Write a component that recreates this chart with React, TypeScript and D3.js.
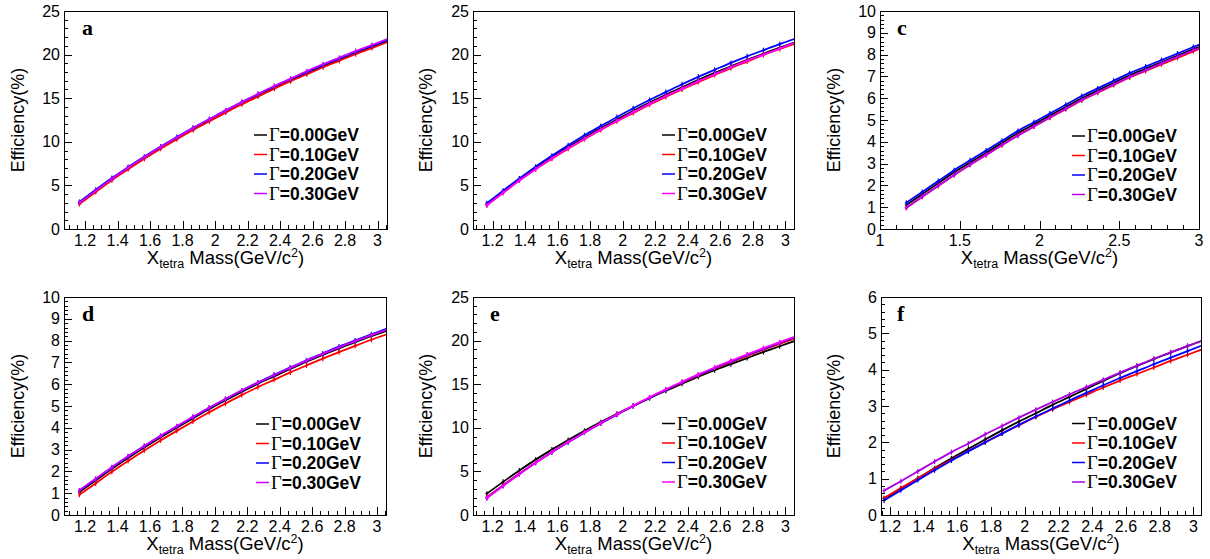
import React from "react";
import * as d3 from "d3";

// ---------------- data ----------------
const masses = [1.165, 1.265, 1.365, 1.465, 1.565, 1.665, 1.765, 1.865, 1.965, 2.065, 2.165, 2.265, 2.365, 2.465, 2.565, 2.665, 2.765, 2.865, 2.965, 3.065];
const widthLabels = ["0.00", "0.10", "0.20", "0.30"];

const effA_g000 = [3.0, 4.4, 5.75, 7.0, 8.2, 9.35, 10.45, 11.5, 12.5, 13.5, 14.45, 15.35, 16.25, 17.1, 17.9, 18.7, 19.45, 20.2, 20.9, 21.6];
const effA_g010 = [2.85, 4.25, 5.6, 6.85, 8.05, 9.2, 10.3, 11.35, 12.35, 13.35, 14.3, 15.2, 16.1, 16.95, 17.75, 18.55, 19.3, 20.05, 20.75, 21.45];
const effA_g020 = [3.1, 4.5, 5.85, 7.1, 8.3, 9.45, 10.55, 11.6, 12.6, 13.6, 14.55, 15.45, 16.35, 17.2, 18.0, 18.8, 19.55, 20.3, 21.0, 21.7];
const effA_g030 = [3.0, 4.4, 5.75, 7.05, 8.25, 9.4, 10.5, 11.6, 12.6, 13.6, 14.55, 15.5, 16.4, 17.25, 18.1, 18.9, 19.65, 20.4, 21.1, 21.8];

const effB_g000 = [2.85, 4.3, 5.7, 7.0, 8.25, 9.4, 10.5, 11.55, 12.55, 13.55, 14.5, 15.4, 16.25, 17.1, 17.9, 18.65, 19.4, 20.1, 20.8, 21.45];
const effB_g010 = [2.75, 4.15, 5.55, 6.85, 8.05, 9.2, 10.3, 11.35, 12.35, 13.3, 14.25, 15.15, 16.0, 16.85, 17.65, 18.45, 19.2, 19.95, 20.65, 21.3];
const effB_g020 = [2.95, 4.4, 5.8, 7.15, 8.4, 9.6, 10.75, 11.8, 12.85, 13.85, 14.8, 15.7, 16.6, 17.45, 18.25, 19.05, 19.8, 20.5, 21.2, 21.85];
const effB_g030 = [2.7, 4.15, 5.55, 6.85, 8.1, 9.25, 10.35, 11.4, 12.4, 13.4, 14.35, 15.25, 16.1, 16.95, 17.75, 18.55, 19.3, 20.0, 20.7, 21.4];

const effC_g000 = [1.1, 1.6, 2.1, 2.6, 3.05, 3.5, 3.95, 4.4, 4.8, 5.2, 5.6, 6.0, 6.35, 6.7, 7.05, 7.35, 7.65, 7.95, 8.25, 8.55];
const effC_g010 = [0.97, 1.48, 1.98, 2.48, 2.95, 3.4, 3.85, 4.3, 4.7, 5.1, 5.5, 5.9, 6.25, 6.6, 6.95, 7.25, 7.55, 7.85, 8.15, 8.45];
const effC_g020 = [1.2, 1.7, 2.2, 2.7, 3.15, 3.6, 4.05, 4.5, 4.9, 5.3, 5.7, 6.1, 6.45, 6.8, 7.15, 7.45, 7.75, 8.05, 8.35, 8.65];
const effC_g030 = [0.97, 1.48, 1.98, 2.48, 2.95, 3.4, 3.85, 4.28, 4.7, 5.12, 5.52, 5.92, 6.28, 6.63, 6.98, 7.28, 7.6, 7.9, 8.2, 8.5];

const effD_g000 = [1.05, 1.58, 2.12, 2.62, 3.1, 3.56, 4.0, 4.43, 4.86, 5.26, 5.65, 6.02, 6.36, 6.7, 7.03, 7.34, 7.64, 7.93, 8.2, 8.46];
const effD_g010 = [0.93, 1.45, 1.98, 2.48, 2.96, 3.42, 3.86, 4.29, 4.71, 5.11, 5.5, 5.86, 6.2, 6.54, 6.86, 7.17, 7.47, 7.76, 8.04, 8.3];
const effD_g020 = [1.12, 1.65, 2.18, 2.68, 3.16, 3.62, 4.06, 4.49, 4.92, 5.32, 5.71, 6.08, 6.43, 6.77, 7.1, 7.41, 7.72, 8.01, 8.29, 8.56];
const effD_g030 = [1.13, 1.66, 2.19, 2.69, 3.17, 3.63, 4.07, 4.5, 4.92, 5.32, 5.71, 6.07, 6.42, 6.75, 7.08, 7.39, 7.69, 7.98, 8.25, 8.52];

const effE_g000 = [2.45, 3.8, 5.1, 6.35, 7.5, 8.6, 9.65, 10.65, 11.6, 12.5, 13.4, 14.25, 15.05, 15.85, 16.6, 17.3, 18.0, 18.7, 19.35, 20.0];
const effE_g010 = [2.05, 3.42, 4.75, 6.03, 7.22, 8.37, 9.47, 10.52, 11.52, 12.5, 13.44, 14.33, 15.17, 16.0, 16.78, 17.52, 18.25, 18.95, 19.63, 20.3];
const effE_g020 = [1.95, 3.35, 4.7, 6.0, 7.2, 8.35, 9.45, 10.5, 11.5, 12.5, 13.45, 14.35, 15.22, 16.05, 16.85, 17.6, 18.35, 19.05, 19.75, 20.42];
const effE_g030 = [1.93, 3.33, 4.68, 5.98, 7.2, 8.36, 9.47, 10.53, 11.54, 12.54, 13.5, 14.41, 15.28, 16.12, 16.92, 17.68, 18.42, 19.13, 19.82, 20.5];

const effF_g000 = [0.45, 0.73, 1.01, 1.29, 1.56, 1.82, 2.08, 2.33, 2.57, 2.8, 3.03, 3.25, 3.47, 3.69, 3.9, 4.1, 4.29, 4.47, 4.65, 4.82];
const effF_g010 = [0.47, 0.74, 1.01, 1.27, 1.52, 1.76, 2.0, 2.24, 2.47, 2.7, 2.91, 3.11, 3.31, 3.51, 3.7, 3.88, 4.06, 4.24, 4.41, 4.58];
const effF_g020 = [0.4, 0.68, 0.96, 1.23, 1.5, 1.75, 2.0, 2.24, 2.48, 2.71, 2.93, 3.15, 3.36, 3.57, 3.77, 3.96, 4.15, 4.33, 4.51, 4.69];
const effF_g030 = [0.67, 0.93, 1.2, 1.47, 1.73, 1.97, 2.22, 2.45, 2.68, 2.9, 3.11, 3.32, 3.52, 3.72, 3.92, 4.11, 4.3, 4.48, 4.65, 4.82];

// tick values / labels
const xTicksFine = [1.2, 1.4, 1.6, 1.8, 2.0, 2.2, 2.4, 2.6, 2.8, 3.0];
const xTickLabelsFine = ["1.2", "1.4", "1.6", "1.8", "2", "2.2", "2.4", "2.6", "2.8", "3"];
const xTicksCoarse = [1, 1.5, 2, 2.5, 3];
const xTickLabelsCoarse = ["1", "1.5", "2", "2.5", "3"];
const yTicks25 = [0, 5, 10, 15, 20, 25];
const yTicks10 = [0, 1, 2, 3, 4, 5, 6, 7, 8, 9, 10];
const yTicks6 = [0, 1, 2, 3, 4, 5, 6];

// ---------------- layout ----------------
type Panel = {
  id: string;
  letter: string;
  series: number[][];
  colors: string[];
  left: number; right: number; top: number; bottom: number;
  xDomain: [number, number];
  yDomain: [number, number];
  xTicks: number[]; xLabels: string[]; xMinor: number;
  yTicks: number[]; yMinor: number;
  legX: number; legY: number;
  letterX: number; letterY: number;
  yTitleX: number;
};

const ROW1 = { top: 11, bottom: 229 };
const ROW2 = { top: 297, bottom: 515 };

const panels: Panel[] = [
  {
    id: "a", letter: "a", series: [effA_g000, effA_g010, effA_g020, effA_g030],
    colors: ["#000000", "#ff0000", "#0000ff", "#cc00ff"],
    left: 64, right: 387, ...ROW1, xDomain: [1.07, 3.058], yDomain: [0, 25],
    xTicks: xTicksFine, xLabels: xTickLabelsFine, xMinor: 0.05, yTicks: yTicks25, yMinor: 1,
    legX: 254, legY: 135, letterX: 82, letterY: 35, yTitleX: 17,
  },
  {
    id: "b", letter: "", series: [effB_g000, effB_g010, effB_g020, effB_g030],
    colors: ["#000000", "#ff0000", "#0000ff", "#ff00ff"],
    left: 473, right: 794, ...ROW1, xDomain: [1.08, 3.053], yDomain: [0, 25],
    xTicks: xTicksFine, xLabels: xTickLabelsFine, xMinor: 0.05, yTicks: yTicks25, yMinor: 1,
    legX: 662, legY: 135, letterX: 0, letterY: 0, yTitleX: 425,
  },
  {
    id: "c", letter: "c", series: [effC_g000, effC_g010, effC_g020, effC_g030],
    colors: ["#000000", "#ff0000", "#0000ff", "#bb00ee"],
    left: 880, right: 1199, ...ROW1, xDomain: [1, 3], yDomain: [0, 10],
    xTicks: xTicksCoarse, xLabels: xTickLabelsCoarse, xMinor: 0.1, yTicks: yTicks10, yMinor: 0.2,
    legX: 1072, legY: 136, letterX: 897, letterY: 35, yTitleX: 833,
  },
  {
    id: "d", letter: "d", series: [effD_g000, effD_g010, effD_g020, effD_g030],
    colors: ["#000000", "#ff0000", "#0000ff", "#cc00ff"],
    left: 64, right: 386, ...ROW2, xDomain: [1.07, 3.055], yDomain: [0, 10],
    xTicks: xTicksFine, xLabels: xTickLabelsFine, xMinor: 0.05, yTicks: yTicks10, yMinor: 0.2,
    legX: 256, legY: 424, letterX: 82, letterY: 321, yTitleX: 17,
  },
  {
    id: "e", letter: "e", series: [effE_g000, effE_g010, effE_g020, effE_g030],
    colors: ["#000000", "#ff0000", "#0000ff", "#ff00ff"],
    left: 473, right: 794, ...ROW2, xDomain: [1.08, 3.053], yDomain: [0, 25],
    xTicks: xTicksFine, xLabels: xTickLabelsFine, xMinor: 0.05, yTicks: yTicks25, yMinor: 1,
    legX: 662, legY: 423.5, letterX: 490, letterY: 321, yTitleX: 425,
  },
  {
    id: "f", letter: "f", series: [effF_g000, effF_g010, effF_g020, effF_g030],
    colors: ["#000000", "#ff0000", "#0000ff", "#aa00dd"],
    left: 881, right: 1201, ...ROW2, xDomain: [1.147, 3.045], yDomain: [0, 6],
    xTicks: xTicksFine, xLabels: xTickLabelsFine, xMinor: 0.05, yTicks: yTicks6, yMinor: 0.2,
    legX: 1072, legY: 423.5, letterX: 897, letterY: 321, yTitleX: 833,
  },
];

const SANS = "'Liberation Sans', Arial, Helvetica, sans-serif";
const SERIF = "'Liberation Serif', 'Times New Roman', serif";

function minorValues(domain: [number, number], step: number): number[] {
  const out: number[] = [];
  const start = Math.ceil(domain[0] / step - 1e-6);
  const end = Math.floor(domain[1] / step + 1e-6);
  for (let i = start; i <= end; i++) out.push(+(i * step).toFixed(6));
  return out;
}

function PanelView({ p }: { p: Panel }) {
  const x = d3.scaleLinear().domain(p.xDomain).range([p.left, p.right]);
  const y = d3.scaleLinear().domain(p.yDomain).range([p.bottom, p.top]);
  const line = d3
    .line<[number, number]>()
    .x((d) => x(d[0]))
    .y((d) => y(d[1]))
    .curve(d3.curveMonotoneX);
  const clipId = `clip-${p.id}`;
  const xMinor = minorValues(p.xDomain, p.xMinor);
  const yMinor = minorValues(p.yDomain, p.yMinor);
  const majorLen = 8;
  const minorLen = 4;
  const midX = (p.left + p.right) / 2;
  const midY = (p.top + p.bottom) / 2;

  return (
    <g>
      <defs>
        <clipPath id={clipId}>
          <rect x={p.left} y={p.top} width={p.right - p.left} height={p.bottom - p.top} />
        </clipPath>
      </defs>
      {/* curves */}
      <g clipPath={`url(#${clipId})`}>
        {p.series.map((s, si) => {
          const pts: [number, number][] = masses.map((m, i) => [m, s[i]]);
          return (
            <g key={si}>
              <path d={line(pts) || ""} fill="none" stroke={p.colors[si]} strokeWidth={1.8} />
              {pts
                .filter((d) => d[0] >= p.xDomain[0] && d[0] <= p.xDomain[1] - 0.02)
                .map((d, i) => (
                  <g key={i} stroke={p.colors[si]} strokeWidth={1.2}>
                    <line x1={x(d[0])} x2={x(d[0])} y1={y(d[1]) - 2.5} y2={y(d[1]) + 2.5} />
                    <line x1={x(d[0]) - 1.5} x2={x(d[0]) + 1.5} y1={y(d[1])} y2={y(d[1])} />
                  </g>
                ))}
            </g>
          );
        })}
      </g>
      {/* frame */}
      <rect
        x={p.left + 0.5}
        y={p.top + 0.5}
        width={p.right - p.left}
        height={p.bottom - p.top}
        fill="none"
        stroke="#000"
        strokeWidth={1}
      />
      {/* ticks */}
      <g stroke="#000" strokeWidth={1}>
        {xMinor.map((v, i) => (
          <line key={`xm${i}`} x1={Math.round(x(v)) + 0.5} x2={Math.round(x(v)) + 0.5} y1={p.bottom} y2={p.bottom - minorLen} />
        ))}
        {p.xTicks.map((v, i) => (
          <line key={`xM${i}`} x1={Math.round(x(v)) + 0.5} x2={Math.round(x(v)) + 0.5} y1={p.bottom} y2={p.bottom - majorLen} />
        ))}
        {yMinor.map((v, i) => (
          <line key={`ym${i}`} x1={p.left} x2={p.left + minorLen} y1={Math.round(y(v)) + 0.5} y2={Math.round(y(v)) + 0.5} />
        ))}
        {p.yTicks.map((v, i) => (
          <line key={`yM${i}`} x1={p.left} x2={p.left + majorLen} y1={Math.round(y(v)) + 0.5} y2={Math.round(y(v)) + 0.5} />
        ))}
      </g>
      {/* tick labels */}
      <g fontFamily={SANS} fontSize={16} fill="#000">
        {p.xTicks.map((v, i) => (
          <text key={`xl${i}`} x={x(v)} y={p.bottom + 17} textAnchor="middle">
            {p.xLabels[i]}
          </text>
        ))}
        {p.yTicks.map((v, i) => (
          <text key={`yl${i}`} x={p.left - 4} y={y(v) + 5.5} textAnchor="end">
            {String(v)}
          </text>
        ))}
      </g>
      {/* axis titles */}
      <text
        fontFamily={SANS}
        fontSize={18}
        textAnchor="middle"
        transform={`translate(${p.yTitleX + 6.5},${midY}) rotate(-90)`}
      >
        Efficiency(%)
      </text>
      <text fontFamily={SANS} fontSize={18.5} x={midX} y={p.bottom + 35} textAnchor="middle">
        <tspan>X</tspan>
        <tspan fontSize={12.5} dy={4}>tetra</tspan>
        <tspan dy={-4}> Mass(GeV/c</tspan>
        <tspan fontSize={12.5} dy={-7}>2</tspan>
        <tspan dy={7}>)</tspan>
      </text>
      {/* panel letter */}
      {p.letter && (
        <text x={p.letterX} y={p.letterY} fontFamily={SERIF} fontWeight="bold" fontSize={22}>
          {p.letter}
        </text>
      )}
      {/* legend */}
      {widthLabels.map((w, i) => {
        const ly = p.legY + i * 19.5;
        return (
          <g key={`lg${i}`}>
            <line x1={p.legX} x2={p.legX + 13} y1={ly} y2={ly} stroke={p.colors[i]} strokeWidth={1.5} />
            <text x={p.legX + 15} y={ly + 6} fontSize={17.5} fill="#000">
              <tspan fontFamily={SERIF} fontSize={18.5}>Γ</tspan>
              <tspan fontFamily={SANS} fontWeight="bold">{`=${w}GeV`}</tspan>
            </text>
          </g>
        );
      })}
    </g>
  );
}

export default function App() {
  return (
    <svg
      width={1210}
      height={559}
      viewBox="0 0 1210 559"
      style={{ position: "absolute", left: 0, top: 0, background: "#fff" }}
    >
      <rect x={0} y={0} width={1210} height={559} fill="#fff" />
      {panels.map((p) => (
        <PanelView key={p.id} p={p} />
      ))}
    </svg>
  );
}
